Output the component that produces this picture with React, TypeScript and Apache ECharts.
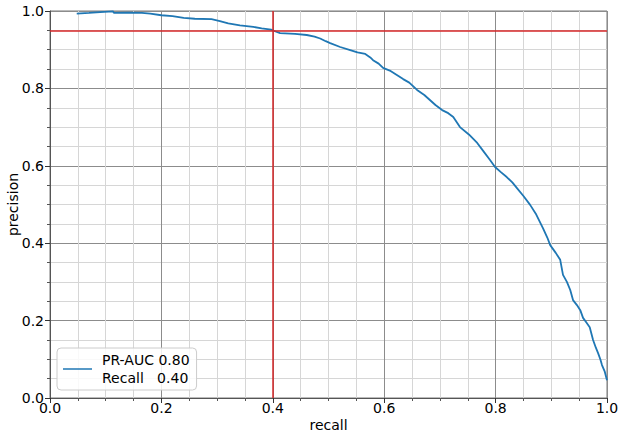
import React, { useEffect, useRef } from "react";
import * as echarts from "echarts";

const recall = [
  0.048, 0.07, 0.09, 0.113, 0.115, 0.14, 0.165, 0.18, 0.2, 0.22, 0.24, 0.26, 0.29, 0.305, 0.32, 0.341,
  0.365, 0.38, 0.397, 0.405, 0.413, 0.44, 0.461, 0.475, 0.485, 0.495, 0.503, 0.521, 0.539, 0.552,
  0.566, 0.575, 0.58, 0.59, 0.598, 0.61, 0.622, 0.634, 0.645, 0.659, 0.672, 0.682, 0.692, 0.704,
  0.715, 0.724, 0.736, 0.752, 0.767, 0.778, 0.79, 0.799, 0.81, 0.82, 0.83, 0.838, 0.85, 0.862,
  0.873, 0.885, 0.893, 0.898, 0.908, 0.916, 0.921, 0.928, 0.934, 0.939, 0.946, 0.952, 0.957,
  0.963, 0.969, 0.975, 0.98, 0.984, 0.988, 0.991, 0.996, 1.0,
];
const precision = [
  0.993, 0.995, 0.997, 0.999, 0.995, 0.996, 0.995, 0.993, 0.989, 0.987, 0.982, 0.98, 0.979, 0.974,
  0.968, 0.963, 0.959, 0.955, 0.952, 0.947, 0.943, 0.941, 0.938, 0.934, 0.929, 0.922, 0.917, 0.907,
  0.899, 0.893, 0.889, 0.88, 0.873, 0.864, 0.853, 0.846, 0.835, 0.824, 0.815, 0.796, 0.783, 0.77,
  0.757, 0.744, 0.736, 0.726, 0.7, 0.681, 0.659, 0.638, 0.615, 0.597, 0.583, 0.571, 0.557, 0.543,
  0.522, 0.499, 0.474, 0.439, 0.414, 0.395, 0.375, 0.357, 0.318, 0.3, 0.279, 0.253, 0.24, 0.227,
  0.207, 0.195, 0.183, 0.15, 0.13, 0.116, 0.1, 0.085, 0.068, 0.046,
];
const thresholdRecall = [0.3955];
const thresholdPrecision = [0.95];
const legendLines = ["PR-AUC 0.80", "Recall   0.40"];
const xTickLabels = ["0.0", "0.2", "0.4", "0.6", "0.8", "1.0"];
const yTickLabels = ["0.0", "0.2", "0.4", "0.6", "0.8", "1.0"];

const FONT = "DejaVu Sans";

export default function App() {
  const ref = useRef<HTMLDivElement>(null);
  useEffect(() => {
    if (!ref.current) return;
    const chart = echarts.init(ref.current, null, { renderer: "svg" });
    const data = recall.map((r, i) => [r, precision[i]]);
    const seriesName = legendLines.join("\n");
    const axisCommon = {
      type: "value" as const,
      min: 0,
      max: 1,
      interval: 0.2,
      axisLine: { show: true, lineStyle: { color: "#555", width: 1 } },
      axisTick: { show: true, inside: false, length: 5, lineStyle: { color: "#333", width: 1 } },
      minorTick: { show: true, splitNumber: 4, length: 3, lineStyle: { color: "#555", width: 1 } },
      splitLine: { show: true, lineStyle: { color: "#8c8c8c", width: 1 } },
      minorSplitLine: { show: true, lineStyle: { color: "#d6d6d6", width: 1 } },
      nameLocation: "middle" as const,
      nameMoveOverlap: false,
      nameTextStyle: { fontFamily: FONT, fontSize: 14, color: "#000" },
    };
    chart.setOption({
      animation: false,
      grid: {
        left: 50,
        right: 16,
        top: 11,
        bottom: 41,
        containLabel: false,
        outerBoundsMode: "none",
        show: true,
        borderColor: "#777",
        borderWidth: 1,
        backgroundColor: "transparent",
      },
      xAxis: {
        ...axisCommon,
        name: "recall",
        nameGap: 20,
        axisLabel: {
          fontFamily: FONT,
          fontSize: 14,
          color: "#000",
          margin: 3,
          formatter: (v: number) => xTickLabels[Math.round(v * 5)] ?? "",
        },
      },
      yAxis: {
        ...axisCommon,
        name: "precision",
        nameGap: 30,
        axisLabel: {
          fontFamily: FONT,
          fontSize: 14,
          color: "#000",
          margin: 6,
          formatter: (v: number) => yTickLabels[Math.round(v * 5)] ?? "",
        },
      },
      legend: {
        show: true,
        left: 57,
        top: 348,
        orient: "vertical",
        itemWidth: 29,
        itemHeight: 14,
        itemGap: 0,
        padding: [3, 7, 3, 6],
        backgroundColor: "rgba(255,255,255,0.85)",
        borderColor: "#cccccc",
        borderWidth: 1,
        borderRadius: 4,
        textStyle: { fontFamily: FONT, fontSize: 14, color: "#000", lineHeight: 18, padding: [0, 0, 0, 5] },
        data: [{ name: seriesName, icon: "path://M0,0 L29,0 L29,1.5 L0,1.5 Z" }],
      },
      series: [
        {
          name: seriesName,
          type: "line",
          data,
          showSymbol: false,
          symbol: "none",
          lineStyle: { color: "#1f77b4", width: 1.8 },
          itemStyle: { color: "#1f77b4" },
          z: 3,
          markLine: {
            silent: true,
            symbol: ["none", "none"],
            label: { show: false },
            lineStyle: { color: "#d62728", width: 1.5, type: "solid" },
            data: [
              ...thresholdRecall.map((v) => ({ xAxis: v })),
              ...thresholdPrecision.map((v) => ({ yAxis: v })),
            ],
          },
        },
      ],
    });
    return () => chart.dispose();
  }, []);
  return (
    <div
      ref={ref}
      style={{ position: "fixed", left: 0, top: 0, width: 623, height: 439, background: "#fff" }}
    />
  );
}
